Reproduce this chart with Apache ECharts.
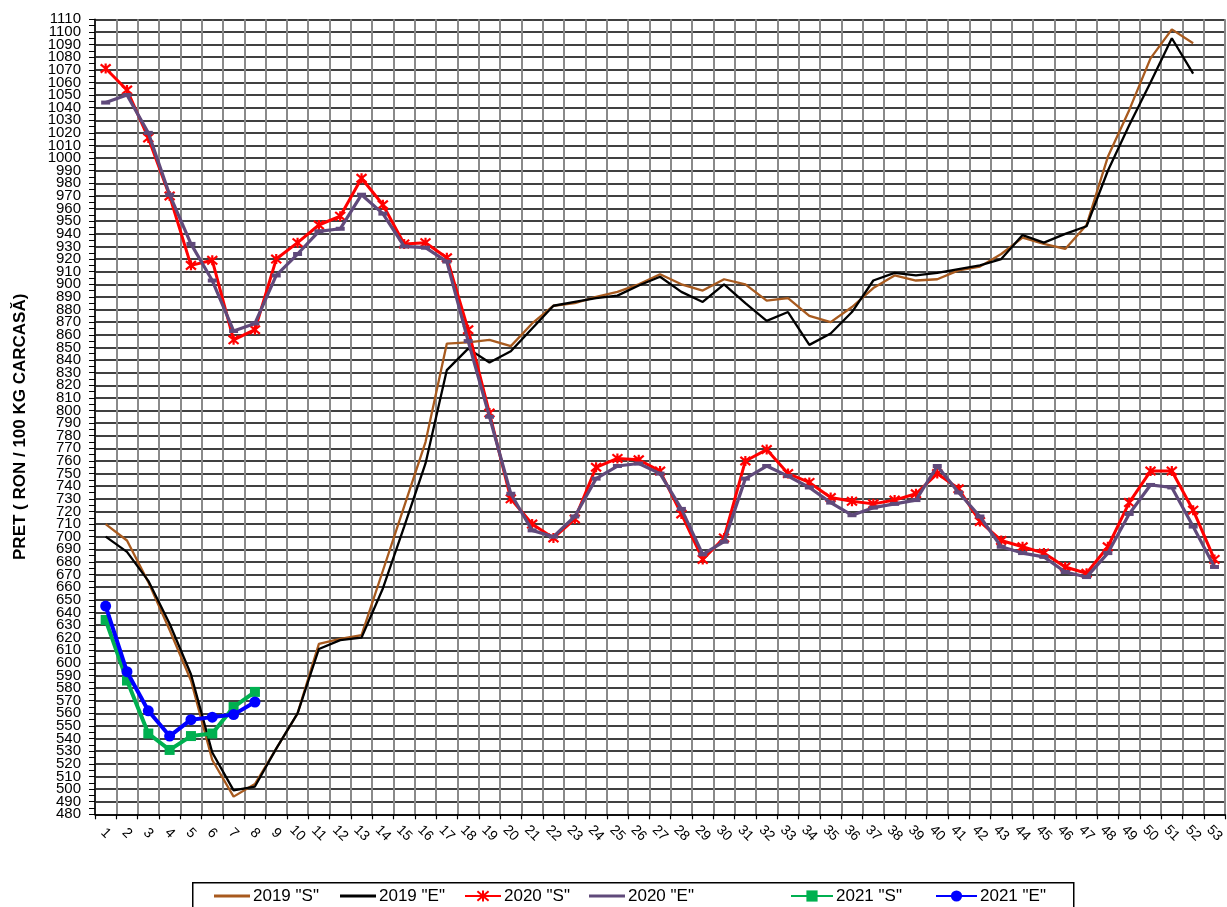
<!DOCTYPE html>
<html>
<head>
<meta charset="utf-8">
<script src="https://cdn.jsdelivr.net/npm/echarts@6/dist/echarts.min.js"></script>
<style>html,body{margin:0;padding:0;background:#fff;}#chart{width:1227px;height:907px;}</style>
</head>
<body>
<div id="chart"></div>
<script>
const weeks = Array.from({length: 53}, (_, i) => String(i + 1));
const yTitle = 'PRET ( RON / 100 KG CARCASĂ)';
const names = ['2019 "S"', '2019 "E"', '2020 "S"', '2020 "E"', '2021 "S"', '2021 "E"'];

const s2019S = [710,697,664,626,586,523,494,504,532,560,615,619,622,673,724,775,853,854,856,851,869,883,885,890,894,900,908,900,895,904,900,887,889,875,870,882,897,907,903,904,911,914,924,937,932,928,947,1001,1038,1079,1102,1091];
const s2019E = [700,688,665,631,591,529,499,502,532,560,611,618,620,659,708,758,832,849,838,847,865,883,886,889,891,899,906,894,886,900,885,871,878,852,861,878,903,909,907,909,912,915,920,939,933,940,946,990,1026,1060,1095,1067];
const s2020S = [1071,1054,1016,970,915,919,856,864,920,933,947,954,984,963,932,933,921,864,798,730,710,699,714,755,762,761,752,718,682,699,760,769,750,743,731,728,726,729,734,750,738,712,697,692,687,676,671,692,727,752,752,721,682];
const s2020E = [1044,1050,1020,971,932,903,863,869,907,924,942,944,971,956,930,929,918,855,795,734,705,700,716,746,756,758,750,722,686,696,746,756,748,739,727,717,723,726,729,756,735,716,692,687,684,672,668,687,718,741,739,708,676];
const s2021S = [634,586,544,531,542,544,565,577];
const s2021E = [645,593,562,542,555,557,559,569];

const FONT = '"Liberation Sans", Arial, sans-serif';
const chart = echarts.init(document.getElementById('chart'), null, {renderer: 'canvas'});

const legendLefts = [214, 340, 464, 589, 790, 935];
const legendWidths = [36, 36, 36, 36, 42, 41];
const plainLine = [true, true, false, true, false, false];
const legendColors = ['#A85A1E', '#000000', '#FF0000', '#604A7B', '#00B050', '#0000FF'];
const legends = names.map((n, i) => {
  const base = {
    left: legendLefts[i], top: 886, padding: 0, selectedMode: false,
    itemWidth: legendWidths[i], itemHeight: 14,
    textStyle: {fontFamily: FONT, fontSize: 17, color: '#000', padding: [0, 0, 0, -2], lineHeight: 20}
  };
  if (plainLine[i]) {
    return Object.assign(base, {data: [{name: n, icon: 'rect'}], itemHeight: 3,
      itemStyle: {color: legendColors[i], borderWidth: 0}});
  }
  return Object.assign(base, {data: [n]});
});

const yLabelStyle = {margin: 14, fontFamily: FONT, fontSize: 15, color: '#000',
  showMinLabel: true, showMaxLabel: true, hideOverlap: false};

const option = {
  animation: false,
  backgroundColor: '#fff',
  grid: {left: 95, top: 19.3, right: -4, bottom: 92.7, containLabel: false},
  legend: legends,
  graphic: [{
    type: 'rect', left: 192, top: 882, z: -1,
    shape: {width: 881, height: 40},
    style: {fill: '#fff', stroke: '#000', lineWidth: 1.5}
  }],
  xAxis: {
    type: 'category', data: weeks, boundaryGap: true,
    axisLine: {lineStyle: {color: '#000', width: 1.5}},
    axisTick: {show: true, interval: 0, length: 5, lineStyle: {color: '#000', width: 1.2}},
    splitLine: {show: true, interval: 0, lineStyle: {color: '#8a8a8a', width: 2}},
    axisLabel: {interval: 0, rotate: -45, align: 'center', verticalAlign: 'middle', margin: 19,
      fontFamily: FONT, fontSize: 14, color: '#000'}
  },
  yAxis: [{
    type: 'value', min: 480, max: 1110, interval: 10, position: 'left',
    name: yTitle, nameLocation: 'middle', nameGap: 66, nameRotate: 90,
    nameTextStyle: {fontFamily: FONT, fontSize: 17, fontWeight: 'bold', color: '#000', padding: [0, 20, 0, 0]},
    axisLine: {show: true, lineStyle: {color: '#000', width: 1.5}},
    axisTick: {show: true, length: 6, lineStyle: {color: '#000', width: 1}},
    minorTick: {show: true, splitNumber: 2, length: 6, lineStyle: {color: '#000', width: 1}},
    splitLine: {show: true, lineStyle: {color: '#000', width: 1.6}},
    axisLabel: Object.assign({}, yLabelStyle, {formatter: v => (Math.round(v / 10) % 2 === 0 ? String(v) : '')})
  }, {
    type: 'value', min: 480, max: 1110, interval: 10, position: 'left', offset: 0,
    axisLine: {show: false}, axisTick: {show: false}, splitLine: {show: false},
    axisLabel: Object.assign({}, yLabelStyle, {formatter: v => (Math.round(v / 10) % 2 === 1 ? String(v) : '')})
  }],
  series: [
    {name: names[0], type: 'line', data: s2019S, symbol: 'none', z: 2,
      color: '#A85A1E', lineStyle: {color: '#A85A1E', width: 2.3}},
    {name: names[1], type: 'line', data: s2019E, symbol: 'none', z: 3,
      color: '#000000', lineStyle: {color: '#000000', width: 2.3}},
    {name: names[2], type: 'line', data: s2020S, z: 4,
      symbol: 'path://M0,0L10,10M10,0L0,10M5,-1L5,11', symbolSize: 10,
      color: '#FF0000', lineStyle: {color: '#FF0000', width: 3},
      itemStyle: {color: '#FF0000', borderColor: '#FF0000', borderWidth: 2.2}},
    {name: names[3], type: 'line', data: s2020E, z: 5,
      symbol: 'rect', symbolSize: [9, 4],
      color: '#604A7B', lineStyle: {color: '#604A7B', width: 3.2},
      itemStyle: {color: '#604A7B'}},
    {name: names[4], type: 'line', data: s2021S, z: 6,
      symbol: 'rect', symbolSize: 10,
      color: '#00B050', lineStyle: {color: '#00B050', width: 4},
      itemStyle: {color: '#00B050'}},
    {name: names[5], type: 'line', data: s2021E, z: 7,
      symbol: 'circle', symbolSize: 11,
      color: '#0000FF', lineStyle: {color: '#0000FF', width: 4},
      itemStyle: {color: '#0000FF'}}
  ]
};
chart.setOption(option);
</script>
</body>
</html>
